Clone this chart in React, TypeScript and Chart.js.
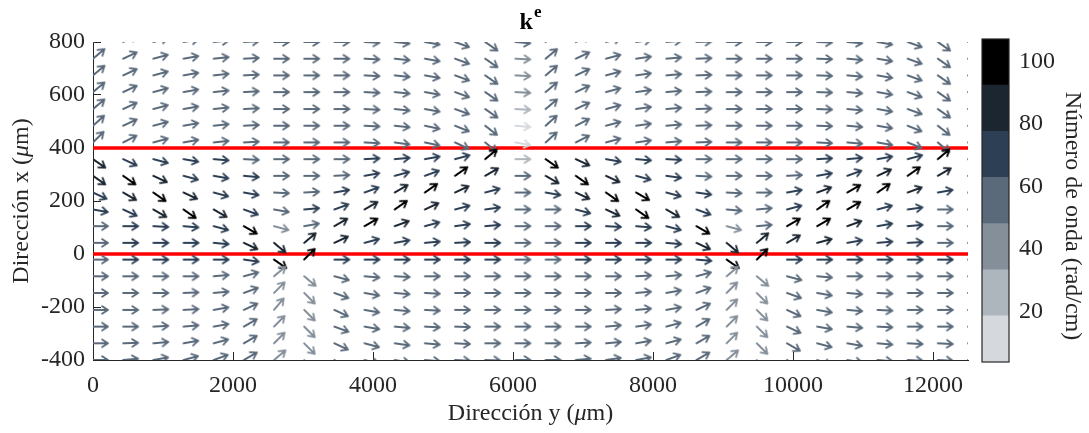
import React, { useEffect, useRef } from 'react';
import { Chart, registerables } from 'chart.js';

Chart.register(...registerables);

const SERIF = '"Liberation Serif", "Times New Roman", Times, serif';
const AXIS_COLOR = '#262626';

// Sampling grid (µm): columns along "Dirección y", rows along "Dirección x"
const gridY = [0, 431, 862, 1293, 1724, 2155, 2586, 3017, 3448, 3879, 4310, 4741, 5172, 5603, 6034,
  6466, 6897, 7328, 7759, 8190, 8621, 9052, 9483, 9914, 10345, 10776, 11207, 11638, 12069, 12500];
const gridX = [800, 737, 674, 611, 547, 484, 421, 358, 295, 232, 168, 105, 42, -21, -84, -147, -211, -274, -337, -400];

// On-screen direction of each arrow, degrees counter-clockwise from the +y direction.
// One line per entry of gridX, one value per entry of gridY.
const arrowAngle = [
  [40, 25, 15, 10, 6, 3, 0, 0, 0, -3, -6, -10, -20, -35, -5, 40, 25, 15, 8, 5, 2, 0, 0, 0, -2, -5, -10, -20, -35, 0],
  [40, 25, 15, 10, 6, 3, 0, 0, 0, -3, -6, -10, -20, -35, -3, 40, 25, 15, 8, 5, 2, 0, 0, 0, -2, -5, -10, -20, -35, 0],
  [40, 25, 15, 10, 6, 3, 0, 0, 0, -3, -6, -10, -20, -35, -3, 40, 25, 15, 8, 5, 2, 0, 0, 0, -2, -5, -10, -20, -35, 0],
  [40, 25, 15, 10, 6, 3, 0, 0, 0, -3, -6, -10, -20, -35, -3, 40, 25, 15, 8, 5, 2, 0, 0, 0, -2, -5, -10, -20, -35, 0],
  [40, 25, 15, 10, 6, 3, 0, 0, 0, -3, -6, -10, -20, -35, -3, 40, 25, 15, 8, 5, 2, 0, 0, 0, -2, -5, -10, -20, -35, 0],
  [42, 25, 15, 10, 6, 3, 0, 0, 0, -3, -6, -12, -22, -38, -5, 42, 27, 15, 8, 5, 2, 0, 0, 0, -2, -5, -10, -22, -38, 0],
  [45, 27, 15, 10, 6, 3, 0, 0, 0, -3, -8, -12, -25, -40, -10, 42, 27, 15, 8, 5, 2, 0, 0, 0, -3, -5, -10, -22, -40, 0],
  [-35, -25, -15, -10, -5, -3, 0, 0, 0, 3, 5, 10, 15, 40, 0, -35, -25, -10, -5, -3, 0, 0, 0, 0, 3, 5, 10, 15, 40, 0],
  [-35, -35, -25, -15, -10, -5, 0, 0, 3, 10, 15, 20, 35, 30, 0, -30, -35, -25, -15, -8, -3, 0, 0, 3, 10, 20, 25, 35, 30, 0],
  [-25, -30, -35, -25, -15, -10, -3, 3, 10, 20, 30, 35, 25, 15, 0, -10, -25, -35, -30, -15, -8, -3, 0, 10, 20, 30, 35, 20, 10, 0],
  [-10, -25, -30, -35, -30, -20, -10, 5, 20, 30, 35, 25, 15, 8, 0, 0, -15, -25, -35, -30, -20, -5, 5, 15, 35, 30, 15, 8, 0, 0],
  [0, 0, -3, -5, -15, -30, -15, 10, 30, 30, 20, 15, 8, 5, 0, 0, 0, -3, -5, -15, -30, -15, 5, 30, 30, 20, 10, 5, 0, 0],
  [0, 0, 0, 0, -5, -25, -40, 40, 25, 15, 10, 5, 3, 0, 0, 0, 0, 0, 0, -5, -25, -40, 40, 30, 15, 10, 5, 3, 0, 0],
  [0, 0, 0, 0, 0, -8, -35, 45, 0, 0, 0, 0, 0, 0, 0, 0, 0, 0, 0, 0, -5, -35, 45, 0, 0, 0, 0, 0, 0, 0],
  [0, 0, 0, 0, 5, 15, 40, -40, -15, -5, -3, 0, 0, 0, 0, 0, 0, 0, 3, 5, 15, 40, -40, -15, -5, 0, 0, 0, 0, 0],
  [0, 0, 0, 2, 5, 20, 45, -45, -20, -10, -5, -3, 0, 0, 0, 0, 0, 0, 5, 10, 20, 45, -45, -20, -10, -5, -3, 0, 0, 0],
  [0, 0, 2, 3, 10, 25, 50, -45, -25, -10, -5, -3, 0, 0, 0, 0, 0, 3, 5, 10, 25, 45, -45, -25, -10, -5, -3, 0, 0, 0],
  [0, 0, 3, 5, 10, 30, 45, -45, -20, -10, -5, -3, -2, 0, 0, 0, 0, 5, 8, 15, 30, 45, -45, -25, -10, -5, -3, 0, 0, 0],
  [0, 2, 5, 10, 15, 30, 45, -45, -25, -15, -8, -5, -3, 0, 0, 0, 3, 5, 10, 15, 30, 45, -45, -30, -15, -10, -5, -3, -3, 0],
  [0, 5, 10, 15, 20, 30, 40, -45, -30, -15, -10, -5, -3, -2, 0, 0, 5, 8, 10, 20, 30, 40, -45, -30, -20, -10, -5, -3, -3, 0],
];

// Wave number carried by each arrow (rad/cm), same layout as arrowAngle
const waveNumber = [
  [55, 55, 55, 55, 55, 55, 55, 55, 55, 55, 55, 55, 55, 55, 55, 55, 55, 55, 55, 55, 55, 55, 55, 55, 55, 55, 55, 55, 55, 55],
  [55, 55, 55, 55, 55, 55, 55, 55, 55, 55, 55, 55, 55, 55, 41, 55, 55, 55, 55, 55, 55, 55, 55, 55, 55, 55, 55, 55, 55, 55],
  [55, 55, 55, 55, 55, 55, 55, 55, 55, 55, 55, 55, 55, 55, 41, 55, 55, 55, 55, 55, 55, 55, 55, 55, 55, 55, 55, 55, 55, 55],
  [55, 55, 55, 55, 55, 55, 55, 55, 55, 55, 55, 55, 55, 55, 41, 55, 55, 55, 55, 55, 55, 55, 55, 55, 55, 55, 55, 55, 55, 55],
  [55, 55, 55, 55, 55, 55, 55, 55, 55, 55, 55, 55, 55, 55, 26, 55, 55, 55, 55, 55, 55, 55, 55, 55, 55, 55, 55, 55, 55, 55],
  [55, 55, 55, 55, 55, 55, 55, 55, 55, 55, 55, 55, 55, 55, 11, 55, 55, 55, 55, 55, 55, 55, 55, 55, 55, 55, 55, 55, 55, 55],
  [55, 55, 55, 55, 55, 55, 55, 55, 55, 55, 55, 55, 55, 55, 11, 55, 55, 55, 55, 55, 55, 55, 55, 55, 55, 55, 55, 55, 55, 55],
  [85, 70, 70, 70, 70, 55, 55, 55, 55, 70, 70, 70, 70, 100, 26, 100, 85, 70, 70, 70, 55, 55, 55, 55, 70, 70, 70, 70, 100, 55],
  [85, 100, 85, 70, 70, 70, 55, 55, 55, 70, 70, 70, 100, 85, 55, 85, 100, 85, 70, 70, 55, 55, 55, 55, 70, 70, 85, 100, 85, 55],
  [70, 85, 100, 85, 70, 70, 55, 55, 70, 70, 85, 100, 85, 70, 55, 70, 85, 100, 100, 70, 70, 55, 55, 70, 85, 100, 100, 85, 70, 55],
  [70, 70, 85, 100, 85, 70, 55, 70, 70, 85, 100, 85, 70, 70, 55, 55, 70, 85, 100, 85, 70, 55, 55, 70, 100, 100, 70, 70, 55, 55],
  [55, 70, 70, 70, 70, 100, 41, 55, 85, 100, 85, 70, 70, 70, 55, 55, 70, 70, 70, 70, 100, 41, 55, 100, 100, 85, 70, 70, 55, 55],
  [55, 70, 70, 70, 70, 85, 85, 85, 85, 70, 70, 70, 70, 70, 55, 55, 70, 70, 70, 70, 85, 85, 85, 85, 85, 70, 70, 70, 55, 55],
  [55, 70, 70, 70, 70, 70, 100, 100, 70, 70, 70, 70, 70, 70, 55, 55, 70, 70, 70, 70, 70, 100, 100, 70, 70, 70, 70, 70, 70, 55],
  [55, 55, 55, 55, 55, 55, 41, 41, 55, 55, 55, 55, 55, 55, 55, 55, 55, 55, 55, 55, 55, 41, 41, 55, 55, 55, 55, 55, 55, 55],
  [55, 55, 55, 55, 55, 55, 41, 41, 55, 55, 55, 55, 55, 55, 55, 55, 55, 55, 55, 55, 55, 41, 41, 55, 55, 55, 55, 55, 55, 55],
  [55, 55, 55, 55, 55, 55, 41, 41, 55, 55, 55, 55, 55, 55, 55, 55, 55, 55, 55, 55, 55, 41, 41, 55, 55, 55, 55, 55, 55, 55],
  [55, 55, 55, 55, 55, 55, 41, 41, 55, 55, 55, 55, 55, 55, 55, 55, 55, 55, 55, 55, 55, 41, 41, 55, 55, 55, 55, 55, 55, 55],
  [55, 55, 55, 55, 55, 55, 41, 41, 55, 55, 55, 55, 55, 55, 55, 55, 55, 55, 55, 55, 55, 41, 41, 55, 55, 55, 55, 55, 55, 55],
  [55, 55, 55, 55, 55, 55, 41, 41, 55, 55, 55, 55, 55, 55, 55, 55, 55, 55, 55, 55, 55, 41, 41, 55, 55, 55, 55, 55, 55, 55],
];

// Layer interfaces (µm along "Dirección x")
const interfaces = [0, 400];

const xRange = [0, 12500];
const yRange = [-400, 800];
const xTicks = [0, 2000, 4000, 6000, 8000, 10000, 12000];
const yTicks = [-400, -200, 0, 200, 400, 600, 800];

// Colour scale
const cbRange = [3.9, 107.1];
const cbTicks = [20, 40, 60, 80, 100];
const cbColors = ['#d5d9de', '#adb5bd', '#858f9a', '#5a6a7b', '#2d3f55', '#1c2631', '#000000'];

const ARROW_LEN = 15;
const HEAD_LEN = 7;
const HEAD_ANGLE = (33 * Math.PI) / 180;

function colorIndex(k: number): number {
  const t = (k - cbRange[0]) / (cbRange[1] - cbRange[0]);
  return Math.min(cbColors.length - 1, Math.max(0, Math.floor(t * cbColors.length)));
}

// Arrow sprite with its tail at the sprite centre, pointing to +x
function makeArrow(color: string): HTMLCanvasElement {
  const half = ARROW_LEN + 4;
  const c = document.createElement('canvas');
  c.width = half * 2;
  c.height = half * 2;
  const g = c.getContext('2d') as CanvasRenderingContext2D;
  g.strokeStyle = color;
  g.lineWidth = 1.9;
  g.lineCap = 'round';
  g.lineJoin = 'round';
  const tip = half + ARROW_LEN;
  const bx = tip - HEAD_LEN * Math.cos(HEAD_ANGLE);
  const by = HEAD_LEN * Math.sin(HEAD_ANGLE);
  g.beginPath();
  g.moveTo(half, half);
  g.lineTo(tip, half);
  g.moveTo(bx, half - by);
  g.lineTo(tip, half);
  g.lineTo(bx, half + by);
  g.stroke();
  return c;
}

type Part = { t: string; italic?: boolean };

function drawParts(ctx: CanvasRenderingContext2D, parts: Part[], x: number, y: number, rot: number, size: number) {
  ctx.save();
  ctx.translate(x, y);
  ctx.rotate(rot);
  ctx.textBaseline = 'alphabetic';
  ctx.textAlign = 'left';
  const fontOf = (p: Part) => `${p.italic ? 'italic ' : ''}${size}px ${SERIF}`;
  let total = 0;
  for (const p of parts) {
    ctx.font = fontOf(p);
    total += ctx.measureText(p.t).width;
  }
  let cx = -total / 2;
  for (const p of parts) {
    ctx.font = fontOf(p);
    ctx.fillText(p.t, cx, 0);
    cx += ctx.measureText(p.t).width;
  }
  ctx.restore();
}

const mainText = {
  id: 'mainText',
  afterDraw(chart: any) {
    const { ctx, chartArea } = chart;
    const cx = (chartArea.left + chartArea.right) / 2;
    ctx.save();
    ctx.fillStyle = '#000000';
    ctx.textBaseline = 'alphabetic';
    ctx.textAlign = 'left';
    ctx.font = `bold 24px ${SERIF}`;
    const kw = ctx.measureText('k').width;
    ctx.font = `bold 17px ${SERIF}`;
    const ew = ctx.measureText('e').width;
    const sx = cx - (kw + 1 + ew) / 2;
    ctx.font = `bold 24px ${SERIF}`;
    ctx.fillText('k', sx, 29);
    ctx.font = `bold 17px ${SERIF}`;
    ctx.fillText('e', sx + kw + 1, 17);
    ctx.fillStyle = AXIS_COLOR;
    drawParts(ctx, [{ t: 'Dirección y (' }, { t: 'μ', italic: true }, { t: 'm)' }], cx, 420, 0, 24);
    drawParts(ctx, [{ t: 'Dirección x (' }, { t: 'μ', italic: true }, { t: 'm)' }], 28, (chartArea.top + chartArea.bottom) / 2, -Math.PI / 2, 24);
    ctx.restore();
  },
};

const colorbarDecor = {
  id: 'colorbarDecor',
  afterDraw(chart: any) {
    const { ctx, chartArea } = chart;
    ctx.save();
    ctx.strokeStyle = AXIS_COLOR;
    ctx.lineWidth = 1.2;
    ctx.strokeRect(chartArea.left, chartArea.top, chartArea.right - chartArea.left, chartArea.bottom - chartArea.top);
    ctx.fillStyle = AXIS_COLOR;
    drawParts(ctx, [{ t: 'Número de onda (rad/cm)' }], 96, 216, Math.PI / 2, 24);
    ctx.restore();
  },
};

// Fixed axis footprint so the plotting area lands where intended
function fixBox(size: number, horizontal: boolean) {
  return (s: any) => {
    if (horizontal) s.height = size;
    else s.width = size;
    s.paddingLeft = 0;
    s.paddingRight = 0;
    s.paddingTop = 0;
    s.paddingBottom = 0;
  };
}

export default function App() {
  const mainRef = useRef<HTMLCanvasElement>(null);
  const barRef = useRef<HTMLCanvasElement>(null);

  useEffect(() => {
    const sprites = cbColors.map(makeArrow);

    const arrows: any[] = [];
    gridX.forEach((xv, i) => {
      gridY.forEach((yv, j) => {
        arrows.push({ x: yv, y: xv, angle: arrowAngle[i][j], k: waveNumber[i][j] });
      });
    });

    const lines = interfaces.map((v) => ({
      type: 'line',
      data: [
        { x: xRange[0], y: v },
        { x: xRange[1], y: v },
      ],
      borderColor: '#ff0000',
      borderWidth: 3.5,
      pointRadius: 0,
      clip: 0,
      order: 2,
    }));

    const tickFont = { family: SERIF, size: 24 };

    const main = new Chart(mainRef.current as HTMLCanvasElement, {
      type: 'scatter',
      data: {
        datasets: [
          {
            data: arrows,
            pointStyle: (c: any) => sprites[colorIndex(c.raw.k)],
            pointRotation: (c: any) => -c.raw.angle,
            pointRadius: 1,
            pointHoverRadius: 1,
            clip: 0,
            order: 1,
          } as any,
          ...(lines as any[]),
        ],
      },
      options: {
        responsive: false,
        maintainAspectRatio: false,
        animation: false,
        events: [],
        layout: { padding: { top: 42, right: 2, left: 0, bottom: 0 } },
        plugins: { legend: { display: false }, tooltip: { enabled: false }, title: { display: false } },
        scales: {
          x: {
            type: 'linear',
            position: 'bottom',
            min: xRange[0],
            max: xRange[1],
            afterBuildTicks: (s: any) => {
              s.ticks = xTicks.map((value) => ({ value }));
            },
            afterFit: fixBox(73, true),
            grid: { drawOnChartArea: false, drawTicks: true, tickLength: -8, color: AXIS_COLOR, lineWidth: 1 },
            border: { display: true, color: AXIS_COLOR, width: 1 },
            ticks: {
              font: tickFont,
              color: AXIS_COLOR,
              padding: 19,
              autoSkip: false,
              maxRotation: 0,
              minRotation: 0,
              callback: (v: any) => String(v),
            },
          },
          y: {
            type: 'linear',
            position: 'left',
            min: yRange[0],
            max: yRange[1],
            afterBuildTicks: (s: any) => {
              s.ticks = yTicks.map((value) => ({ value }));
            },
            afterFit: fixBox(93, false),
            grid: { drawOnChartArea: false, drawTicks: true, tickLength: -8, color: AXIS_COLOR, lineWidth: 1 },
            border: { display: true, color: AXIS_COLOR, width: 1 },
            ticks: {
              font: tickFont,
              color: AXIS_COLOR,
              padding: 16,
              autoSkip: false,
              callback: (v: any) => String(v),
            },
          },
        },
      } as any,
      plugins: [mainText],
    });

    const step = (cbRange[1] - cbRange[0]) / cbColors.length;
    const bar = new Chart(barRef.current as HTMLCanvasElement, {
      type: 'bar',
      data: {
        labels: [''],
        datasets: cbColors.map((color, b) => ({
          data: [[cbRange[0] + b * step, cbRange[0] + (b + 1) * step]],
          backgroundColor: color,
          borderWidth: 0,
          barPercentage: 1,
          categoryPercentage: 1,
          grouped: false,
        })) as any,
      },
      options: {
        responsive: false,
        maintainAspectRatio: false,
        animation: false,
        events: [],
        layout: { padding: { top: 39, right: 0, left: 12, bottom: 71 } },
        plugins: { legend: { display: false }, tooltip: { enabled: false } },
        scales: {
          x: { display: false },
          y: {
            type: 'linear',
            position: 'right',
            min: cbRange[0],
            max: cbRange[1],
            afterBuildTicks: (s: any) => {
              s.ticks = cbTicks.map((value) => ({ value }));
            },
            afterFit: fixBox(80, false),
            grid: { drawOnChartArea: false, drawTicks: true, tickLength: -5, color: AXIS_COLOR, lineWidth: 1 },
            border: { display: false },
            ticks: {
              font: tickFont,
              color: AXIS_COLOR,
              padding: 15,
              autoSkip: false,
              callback: (v: any) => String(v),
            },
          },
        },
      } as any,
      plugins: [colorbarDecor],
    });

    return () => {
      main.destroy();
      bar.destroy();
    };
  }, []);

  return (
    <div style={{ position: 'fixed', left: 0, top: 0, width: 1089, height: 433, background: '#ffffff' }}>
      <canvas ref={mainRef} width={970} height={433} style={{ position: 'absolute', left: 0, top: 0 }} />
      <canvas ref={barRef} width={119} height={433} style={{ position: 'absolute', left: 970, top: 0 }} />
    </div>
  );
}
